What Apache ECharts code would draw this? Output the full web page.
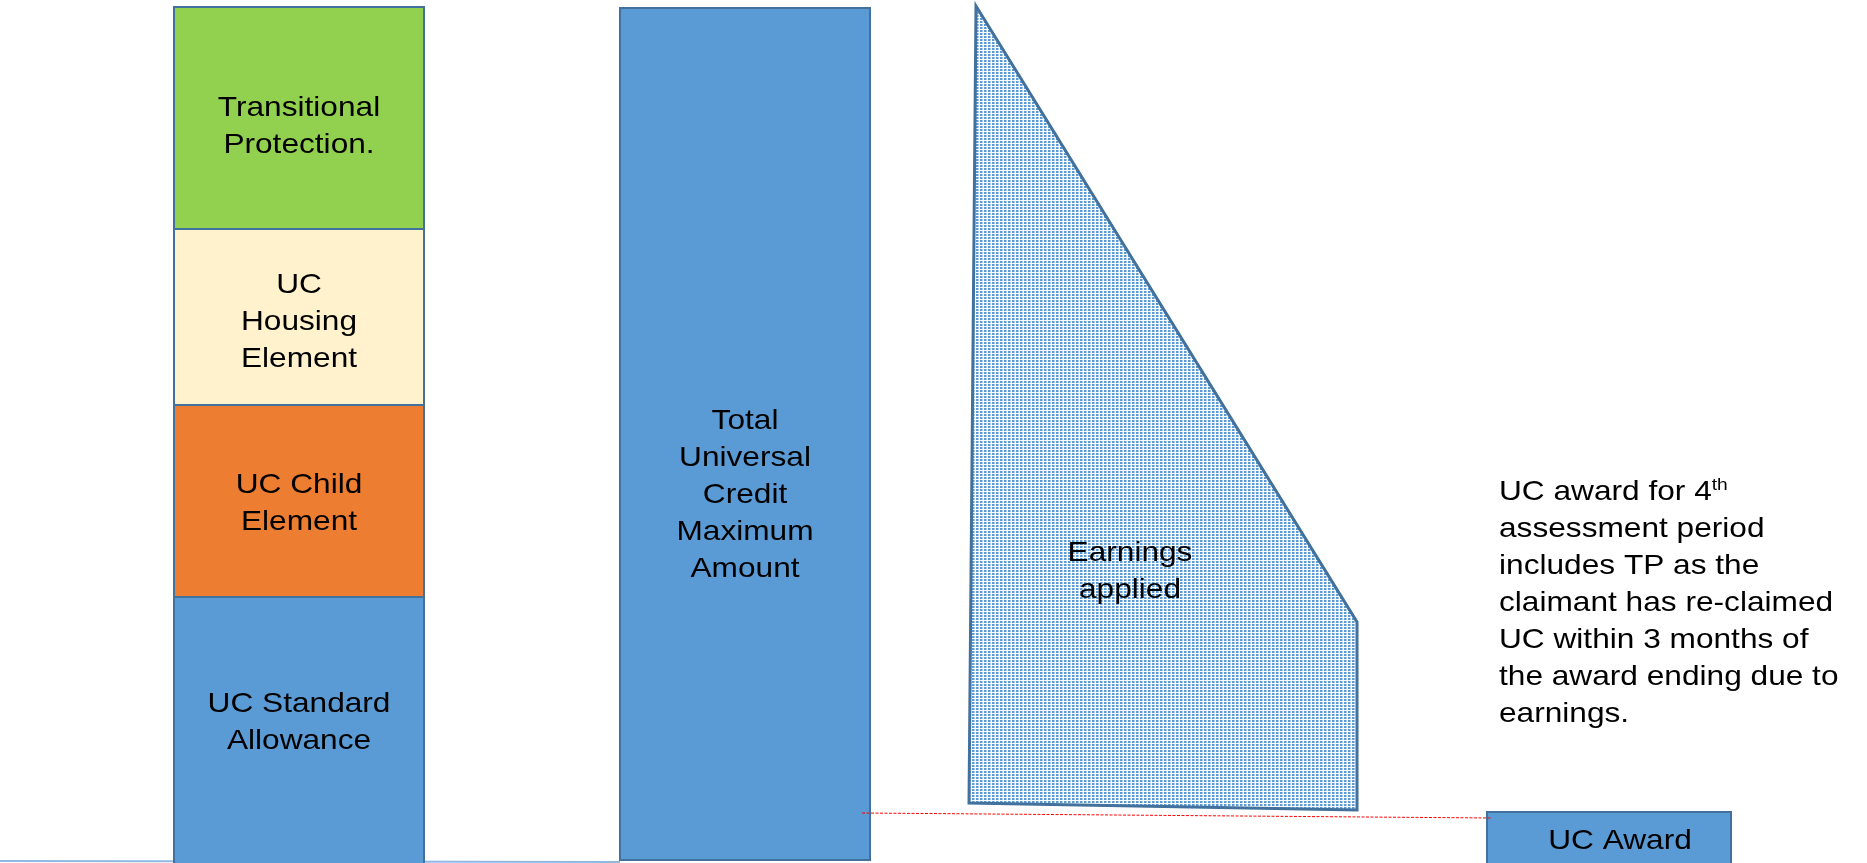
<!DOCTYPE html>
<html>
<head>
<meta charset="utf-8">
<title>UC award</title>
<style>
  html, body { margin: 0; padding: 0; background: #fff; }
  #chart { width: 1867px; height: 863px; }
</style>
<script src="https://cdn.jsdelivr.net/npm/echarts@6/dist/echarts.min.js"></script>
</head>
<body>
<div id="chart"></div>
<script>
// amounts, 0 = the baseline under the bars
const elementNames = ['UC Standard\nAllowance', 'UC Child\nElement', 'UC\nHousing\nElement', 'Transitional\nProtection.'];
const elementValues = [263, 192, 176, 222];
const maxAmountLabel = 'Total\nUniversal\nCredit\nMaximum\nAmount';
const maxAmount = 852;
const earningsLabel = 'Earnings\napplied';
const earningsTop = [854, 238];   // left end, right end of the slope
const earningsBase = [57, 50];
const awardLabel = 'UC Award';
const awardAmount = 48;
const awardLink = [47, 42];
const baseLine = [-1, -2];
const noteText = 'UC award for 4{sup|th}\nassessment period\nincludes TP as the\nclaimant has re-claimed\nUC within 3 months of\nthe award ending due to\nearnings.';

// layout and styles
const ELEMENT_COLORS = ['#5b9bd5', '#ed7d31', '#fff2cc', '#92d050'];
const ELEMENT_LABEL_SHIFT = [-7, 3, 5, 9];
const X = {
  elements: [174, 424],
  maximum: [620, 870],
  earnings: { topLeft: 976, bottomLeft: 969, right: 1357 },
  earningsLabel: 1130,
  award: [1487, 1731],
  awardLabel: 1620,
  link: [862, 1492],
  base: [0, 620],
  note: 1499,
};
const MAX_LABEL_SHIFT = 61;
const EARNINGS_LABEL_Y = 288;
const AWARD_LABEL_SHIFT = 4;
const NOTE_TOP = 474;
const Y_MIN = -3;
const Y_MAX = 860;
const BORDER = '#41719c';
const FONT = '28px "Liberation Sans", Arial, sans-serif';
const STRETCH = 1.13;

const chart = echarts.init(document.getElementById('chart'));

function dotPattern() {
  const c = document.createElement('canvas');
  c.width = 4;
  c.height = 3;
  const ctx = c.getContext('2d');
  ctx.fillStyle = '#ffffff';
  ctx.fillRect(0, 0, 4, 3);
  ctx.fillStyle = '#5b9bd5';
  ctx.fillRect(0, 0, 2, 2);
  ctx.fillStyle = '#a9c9ea';
  ctx.fillRect(2, 0, 1, 2);
  return c;
}

function label(text, x, y) {
  return {
    type: 'text',
    x,
    y,
    scaleX: STRETCH,
    z2: 10,
    style: {
      text,
      font: FONT,
      fill: '#000',
      align: 'center',
      verticalAlign: 'middle',
      lineHeight: 37,
    },
  };
}

function box(api, x0, x1, lo, hi, color, width) {
  const a = api.coord([x0, hi]);
  const b = api.coord([x1, lo]);
  return {
    type: 'rect',
    shape: { x: a[0], y: a[1], width: b[0] - a[0], height: b[1] - a[1] },
    style: { fill: color, stroke: BORDER, lineWidth: width || 2 },
  };
}

// stacked elements of the first bar
const stacked = [];
let run = 0;
elementValues.forEach((v, i) => {
  stacked.push([run, run + v, i]);
  run += v;
});

const option = {
  animation: false,
  grid: { left: 0, right: 0, top: 0, bottom: 0 },
  xAxis: { type: 'value', min: 0, max: 1867, show: false },
  yAxis: { type: 'value', min: Y_MIN, max: Y_MAX, show: false },
  graphic: [
    {
      type: 'text',
      x: X.note,
      y: NOTE_TOP,
      scaleX: STRETCH,
      style: {
        text: noteText,
        font: FONT,
        fill: '#000',
        lineHeight: 37,
        verticalAlign: 'top',
        rich: {
          sup: { fontSize: 17, fontFamily: '"Liberation Sans", Arial, sans-serif', verticalAlign: 'top', lineHeight: 20, padding: [3, 0, 0, 0] },
        },
      },
    },
  ],
  series: [
    {
      type: 'custom',
      name: 'base line',
      clip: true,
      data: [baseLine],
      renderItem(params, api) {
        const a = api.coord([X.base[0], api.value(0)]);
        const b = api.coord([X.base[1], api.value(1)]);
        return {
          type: 'line',
          shape: { x1: a[0], y1: a[1], x2: b[0], y2: b[1] },
          style: { stroke: '#8fb9e3', lineWidth: 2 },
        };
      },
    },
    {
      type: 'custom',
      name: 'elements',
      clip: true,
      data: stacked,
      renderItem(params, api) {
        const i = api.value(2);
        const lo = i === 0 ? Y_MIN - 20 : api.value(0);
        const hi = api.value(1);
        const rect = box(api, X.elements[0], X.elements[1], lo, hi, ELEMENT_COLORS[i]);
        const cy = api.coord([0, (Math.max(lo, Y_MIN) + hi) / 2])[1] + ELEMENT_LABEL_SHIFT[i];
        const cx = (api.coord([X.elements[0], 0])[0] + api.coord([X.elements[1], 0])[0]) / 2;
        return { type: 'group', children: [rect, label(elementNames[i], cx, cy)] };
      },
    },
    {
      type: 'custom',
      name: 'maximum',
      clip: true,
      data: [[0, maxAmount]],
      renderItem(params, api) {
        const rect = box(api, X.maximum[0], X.maximum[1], api.value(0), api.value(1), '#5b9bd5');
        const cx = rect.shape.x + rect.shape.width / 2;
        const cy = rect.shape.y + rect.shape.height / 2 + MAX_LABEL_SHIFT;
        return { type: 'group', children: [rect, label(maxAmountLabel, cx, cy)] };
      },
    },
    {
      type: 'custom',
      name: 'earnings',
      clip: true,
      data: [[earningsTop[0], earningsTop[1], earningsBase[0], earningsBase[1]]],
      renderItem(params, api) {
        const pts = [
          api.coord([X.earnings.topLeft, api.value(0)]),
          api.coord([X.earnings.right, api.value(1)]),
          api.coord([X.earnings.right, api.value(3)]),
          api.coord([X.earnings.bottomLeft, api.value(2)]),
        ];
        const pos = api.coord([X.earningsLabel, EARNINGS_LABEL_Y]);
        return {
          type: 'group',
          children: [
            {
              type: 'polygon',
              shape: { points: pts },
              style: { fill: { image: dotPattern(), repeat: 'repeat' }, stroke: BORDER, lineWidth: 3, lineJoin: 'miter' },
            },
            label(earningsLabel, pos[0], pos[1]),
          ],
        };
      },
    },
    {
      type: 'custom',
      name: 'award',
      clip: true,
      data: [[0, awardAmount]],
      renderItem(params, api) {
        const rect = box(api, X.award[0], X.award[1], Y_MIN - 20, api.value(1), '#5b9bd5');
        const top = api.coord([0, api.value(1)])[1];
        const bottom = api.coord([0, Y_MIN])[1];
        return { type: 'group', children: [rect, label(awardLabel, X.awardLabel, (top + bottom) / 2 + AWARD_LABEL_SHIFT)] };
      },
    },
    {
      type: 'custom',
      name: 'link',
      clip: true,
      z: 5,
      data: [awardLink],
      renderItem(params, api) {
        const a = api.coord([X.link[0], api.value(0)]);
        const b = api.coord([X.link[1], api.value(1)]);
        return {
          type: 'line',
          shape: { x1: a[0], y1: a[1], x2: b[0], y2: b[1] },
          style: { stroke: '#ff0000', lineWidth: 1, lineDash: [3, 1.5] },
        };
      },
    },
  ],
};

chart.setOption(option);

window.addEventListener('resize', () => {
  chart.resize();
});
</script>
</body>
</html>
